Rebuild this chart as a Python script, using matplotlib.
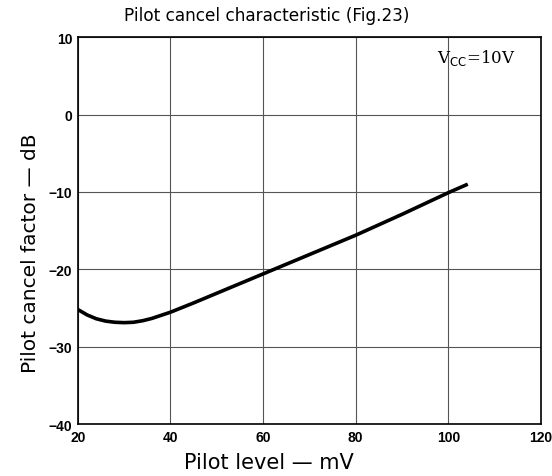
import matplotlib.pyplot as plt

# values
pilot_mv = [20, 22, 24, 26, 28, 30, 32, 34, 36, 38, 40, 45, 50, 55, 60, 70, 80, 90, 100, 104.2]
cancel_db = [-25.2, -25.9, -26.4, -26.7, -26.85, -26.9, -26.85, -26.65, -26.35, -25.95, -25.55,
             -24.35, -23.1, -21.85, -20.6, -18.1, -15.6, -12.9, -10.1, -9.0]

x_ticks = [20, 40, 60, 80, 100, 120]
y_ticks = [-40, -30, -20, -10, 0, 10]

fig = plt.figure(figsize=(5.52, 4.77), dpi=100)
ax = fig.add_axes([0.141, 0.109, 0.839, 0.811])

ax.plot(pilot_mv, cancel_db, color='black', lw=2.6, solid_capstyle='butt')

ax.set_xlim(20, 120)
ax.set_ylim(-40, 10)
ax.set_xticks(x_ticks)
ax.set_yticks(y_ticks)
ax.grid(True, color='#555555', lw=0.8)
ax.tick_params(length=0, pad=4)
for lbl in ax.get_xticklabels() + ax.get_yticklabels():
    lbl.set_fontfamily('Liberation Sans')
    lbl.set_fontweight('bold')
    lbl.set_fontsize(10)
for sp in ax.spines.values():
    sp.set_linewidth(1.2)

# titles placed on the figure, the original is off-centre
fig.text(0.484, 0.966, 'Pilot cancel characteristic (Fig.23)', fontsize=12.2, ha='center', va='center')
fig.text(0.487, 0.029, 'Pilot level \u2014 mV', fontsize=15, ha='center', va='center')
fig.text(0.055, 0.47, 'Pilot cancel factor \u2014 dB', fontsize=14.5, ha='center', va='center',
         rotation=90)

ax.text(0.944, 0.975, r'V$_{\rm CC}$=10V', transform=ax.transAxes, ha='right', va='top',
        fontsize=12, family='DejaVu Serif')

fig.savefig('out.png', dpi=100)
